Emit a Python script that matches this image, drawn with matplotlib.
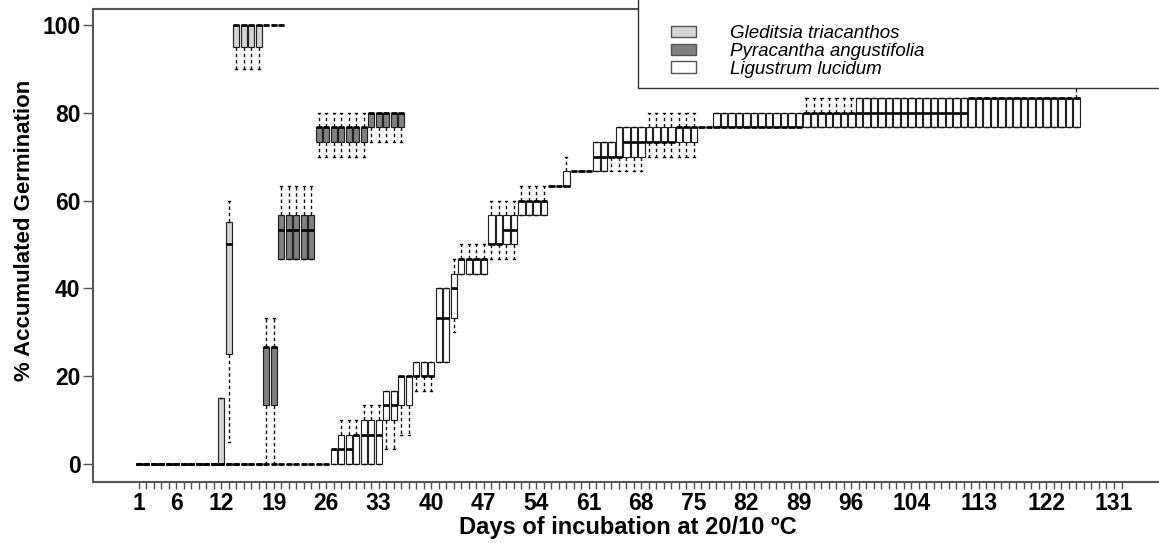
import numpy as np
import matplotlib
matplotlib.use("Agg")
import matplotlib.pyplot as plt
from matplotlib.patches import Patch, Rectangle

plt.rcParams['font.family'] = ['Liberation Sans', 'DejaVu Sans']

# runs of consecutive days that share the same box: first day, last day, whisker low, Q1, median, Q3, whisker high
gle_first = [1, 12, 13, 14, 18]
gle_last = [11, 12, 13, 17, 20]
gle_lo = [0, 0, 5, 90, 100]
gle_q1 = [0, 0, 25, 95, 100]
gle_med = [0, 0, 50, 100, 100]
gle_q3 = [0, 15, 55, 100, 100]
gle_hi = [0, 15, 60, 100, 100]

pyr_first = [1, 18, 20, 25, 32]
pyr_last = [17, 19, 24, 31, 36]
pyr_lo = [0, 0, 46.67, 70, 73.33]
pyr_q1 = [0, 13.33, 46.67, 73.33, 76.67]
pyr_med = [0, 26.67, 53.33, 76.67, 80]
pyr_q3 = [0, 26.67, 56.67, 76.67, 80]
pyr_hi = [0, 33.33, 63.33, 80, 80]

lig_first = [1, 27, 28, 30, 31, 34, 36, 38, 41, 43, 44, 48, 50, 52, 56, 58, 59,
             62, 64, 65, 66, 69, 73, 76, 78, 90, 97, 112, 126]
lig_last = [26, 27, 29, 30, 33, 35, 37, 40, 42, 43, 47, 49, 51, 55, 57, 58, 61,
            63, 64, 65, 68, 72, 75, 77, 89, 96, 111, 125, 126]
lig_lo = [0, 0, 0, 0, 0, 3.33, 6.67, 16.67, 23.33, 30, 43.33, 46.67, 46.67, 56.67, 63.33, 63.33, 66.67,
          66.67, 66.67, 66.67, 66.67, 70, 70, 76.67, 76.67, 76.67, 76.67, 76.67, 76.67]
lig_q1 = [0, 0, 0, 0, 0, 10, 13.33, 20, 23.33, 33.33, 43.33, 50, 50, 56.67, 63.33, 63.33, 66.67,
          66.67, 70, 70, 70, 73.33, 73.33, 76.67, 76.67, 76.67, 76.67, 76.67, 76.67]
lig_med = [0, 3.33, 3.33, 6.67, 6.67, 13.33, 20, 20, 33.33, 40, 46.67, 50, 53.33, 60, 63.33, 63.33, 66.67,
           70, 70, 70, 73.33, 73.33, 76.67, 76.67, 76.67, 80, 80, 83.33, 83.33]
lig_q3 = [0, 3.33, 6.67, 6.67, 10, 16.67, 20, 23.33, 40, 43.33, 46.67, 56.67, 56.67, 60, 63.33, 66.67, 66.67,
          73.33, 73.33, 76.67, 76.67, 76.67, 76.67, 76.67, 80, 80, 83.33, 83.33, 83.33]
lig_hi = [0, 3.33, 10, 10, 13.33, 16.67, 20, 23.33, 40, 46.67, 50, 60, 60, 63.33, 63.33, 70, 66.67,
          73.33, 73.33, 76.67, 76.67, 80, 80, 76.67, 80, 83.33, 83.33, 83.33, 86.67]

species = ['Gleditsia triacanthos', 'Pyracantha angustifolia', 'Ligustrum lucidum']
colors = ['#d4d4d4', '#808080', '#ffffff']

tick_days = [1, 6, 12, 19, 26, 33, 40, 47, 54, 61, 68, 75, 82, 89, 96, 104, 113, 122, 131]


def expand(first, last, lo, q1, med, q3, hi):
    stats, pos = [], []
    for i in range(len(first)):
        for d in range(first[i], last[i] + 1):
            stats.append(dict(whislo=lo[i], q1=q1[i], med=med[i], q3=q3[i], whishi=hi[i]))
            pos.append(d)
    return stats, pos


groups = [
    expand(gle_first, gle_last, gle_lo, gle_q1, gle_med, gle_q3, gle_hi),
    expand(pyr_first, pyr_last, pyr_lo, pyr_q1, pyr_med, pyr_q3, pyr_hi),
    expand(lig_first, lig_last, lig_lo, lig_q1, lig_med, lig_q3, lig_hi),
]

fig = plt.figure(figsize=(11.59, 5.43), dpi=100)
ax = fig.add_axes([0.0802, 0.1123, 0.9224, 0.8711])

edge = '#222222'
for (stats, pos), c in zip(groups, colors):
    ax.bxp(stats, positions=pos, widths=0.85, capwidths=0.3,
           showfliers=False, patch_artist=True, manage_ticks=False,
           boxprops=dict(facecolor=c, edgecolor=edge, linewidth=0.85),
           medianprops=dict(color='black', linewidth=1.9, solid_capstyle='butt'),
           whiskerprops=dict(color='#111111', linewidth=1.0, linestyle=(0, (2.5, 2))),
           capprops=dict(color='#111111', linewidth=1.0))

ax.set_xlim(-5.1, 137.4)
ax.set_ylim(-4.1, 103.6)

ax.set_xticks(tick_days)
ax.set_xticklabels([str(d) for d in tick_days])
ax.set_xticks(range(1, 133), minor=True)
ax.set_yticks([0, 20, 40, 60, 80, 100])
ax.tick_params(axis='both', which='both', direction='out', color='#555555', width=1.0)
ax.tick_params(axis='x', which='both', length=5, pad=2)
ax.tick_params(axis='y', length=7, pad=2)
for lab in ax.get_xticklabels() + ax.get_yticklabels():
    lab.set_fontsize(16.5)
    lab.set_fontweight('bold')

for s in ['left', 'bottom', 'top']:
    ax.spines[s].set_color('#555555')
    ax.spines[s].set_linewidth(1.5)
ax.spines['right'].set_visible(False)

ax.set_xlabel('Days of incubation at 20/10 ºC', fontsize=17, fontweight='bold', labelpad=1)
ax.set_ylabel('% Accumulated Germination', fontsize=16, fontweight='bold')
ax.yaxis.set_label_coords(-0.054, 0.533)

# legend frame runs past the right edge of the picture
ax.add_patch(Rectangle((0.5098, 0.833), 0.6, 0.2, transform=ax.transAxes,
                       facecolor='white', edgecolor='#333333', linewidth=1.0,
                       clip_on=False, zorder=4))
handles = [Patch(facecolor=c, edgecolor='#555555', linewidth=1.0) for c in colors]
leg = ax.legend(handles, species, loc='upper left', bbox_to_anchor=(0.5405, 0.966),
                frameon=False, prop=dict(family='Liberation Sans', style='italic', size=13.5),
                handlelength=1.35, handleheight=0.55, handletextpad=1.8,
                labelspacing=0.04, borderpad=0, borderaxespad=0)
leg.set_zorder(5)

fig.savefig('out.png', dpi=100)
